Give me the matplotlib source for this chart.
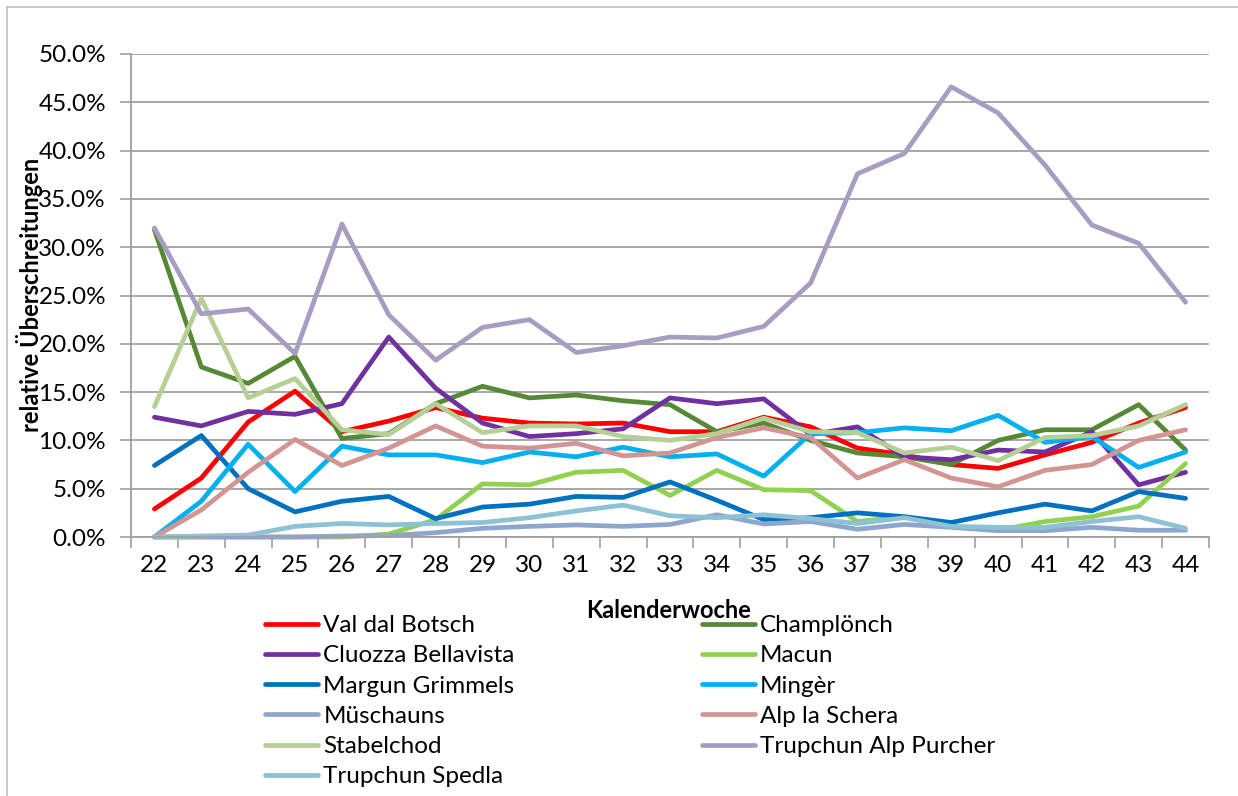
import matplotlib
matplotlib.use("Agg")
import matplotlib.pyplot as plt
from matplotlib.ticker import FuncFormatter, FixedLocator
from matplotlib.lines import Line2D

plt.rcParams['font.family'] = ['Lato', 'DejaVu Sans']

# Kalenderwochen
weeks = [str(w) for w in range(22, 45)]

# relative Überschreitungen in Prozent
val_dal_botsch = [2.9, 6.1, 11.9, 15.1, 10.9, 12.0, 13.4, 12.3, 11.8, 11.7, 11.8, 10.9,
                  10.9, 12.4, 11.4, 9.2, 8.5, 7.5, 7.1, 8.5, 9.8, 11.8, 13.4]
champloench = [31.8, 17.6, 15.9, 18.7, 10.2, 10.7, 13.8, 15.6, 14.4, 14.7, 14.1, 13.7,
               10.9, 11.8, 10.0, 8.7, 8.3, 7.5, 10.0, 11.1, 11.1, 13.7, 9.0]
cluozza = [12.4, 11.5, 13.0, 12.7, 13.8, 20.7, 15.4, 11.8, 10.4, 10.7, 11.2, 14.4,
           13.8, 14.3, 10.6, 11.4, 8.3, 8.0, 9.0, 8.8, 10.9, 5.4, 6.7]
macun = [0.0, 0.0, 0.0, 0.0, 0.0, 0.3, 1.8, 5.5, 5.4, 6.7, 6.9, 4.3,
         6.9, 4.9, 4.8, 1.6, 2.1, 1.1, 0.7, 1.6, 2.1, 3.2, 7.6]
margun = [7.4, 10.5, 5.0, 2.6, 3.7, 4.2, 1.9, 3.1, 3.4, 4.2, 4.1, 5.7,
          3.8, 1.8, 2.0, 2.5, 2.1, 1.5, 2.5, 3.4, 2.7, 4.7, 4.0]
minger = [0.0, 3.7, 9.6, 4.7, 9.4, 8.5, 8.5, 7.7, 8.8, 8.3, 9.3, 8.3,
          8.6, 6.3, 10.7, 10.8, 11.3, 11.0, 12.6, 9.8, 10.4, 7.2, 8.8]
mueschauns = [0.0, 0.0, 0.0, 0.0, 0.1, 0.15, 0.45, 0.9, 1.1, 1.25, 1.1, 1.3,
              2.3, 1.35, 1.6, 0.8, 1.3, 1.0, 0.65, 0.65, 1.0, 0.7, 0.7]
alp_la_schera = [0.0, 2.8, 6.7, 10.1, 7.4, 9.2, 11.5, 9.4, 9.2, 9.7, 8.4, 8.7,
                 10.3, 11.3, 10.3, 6.1, 8.0, 6.1, 5.2, 6.9, 7.5, 10.0, 11.1]
stabelchod = [13.5, 24.7, 14.4, 16.4, 11.1, 10.6, 13.8, 10.8, 11.5, 11.5, 10.4, 10.0,
              10.7, 12.3, 10.9, 10.8, 8.7, 9.3, 7.9, 10.3, 10.5, 11.5, 13.7]
alp_purcher = [32.0, 23.1, 23.6, 19.0, 32.4, 23.0, 18.3, 21.7, 22.5, 19.1, 19.8, 20.7,
               20.6, 21.8, 26.3, 37.6, 39.7, 46.6, 43.9, 38.5, 32.3, 30.4, 24.3]
spedla = [0.0, 0.1, 0.2, 1.1, 1.4, 1.25, 1.4, 1.5, 2.0, 2.7, 3.3, 2.2,
          2.0, 2.3, 1.9, 1.4, 2.0, 1.1, 1.0, 1.0, 1.6, 2.1, 0.9]

names = ['Val dal Botsch', 'Champlönch', 'Cluozza Bellavista', 'Macun',
         'Margun Grimmels', 'Mingèr', 'Müschauns', 'Alp la Schera',
         'Stabelchod', 'Trupchun Alp Purcher', 'Trupchun Spedla']
series = [val_dal_botsch, champloench, cluozza, macun, margun, minger,
          mueschauns, alp_la_schera, stabelchod, alp_purcher, spedla]
colors = ['#FF0000', '#558935', '#7030A0', '#92D050', '#0070C0', '#00B0F0',
          '#8EA6CE', '#D39494', '#B6CF96', '#A89CC2', '#8DC1D4']

fig = plt.figure(figsize=(12.38, 7.96), dpi=100)
ax = fig.add_axes([131 / 1238, 1 - 537 / 796, (1209 - 131) / 1238, (537 - 54) / 796])

x = list(range(len(weeks)))
lines = []
for name, vals, col in zip(names, series, colors):
    ln, = ax.plot(x, [v / 100 for v in vals], color=col, lw=3.4, label=name,
                  solid_joinstyle='round', solid_capstyle='round', clip_on=False)
    lines.append(ln)

ax.set_xlim(-0.5, len(weeks) - 0.5)
ax.set_ylim(0, 0.5)
ax.set_yticks([i * 0.05 for i in range(11)])
ax.yaxis.set_major_formatter(FuncFormatter(lambda v, p: f"{v * 100:.1f}%"))
ax.set_xticks(x)
ax.set_xticklabels(weeks)
ax.xaxis.set_minor_locator(FixedLocator([i - 0.5 for i in range(len(weeks) + 1)]))
ax.tick_params(axis='x', which='major', length=0, labelsize=17.5, pad=13)
ax.tick_params(axis='x', which='minor', length=8, color='#A0A0A0', width=1.2)
ax.tick_params(axis='y', length=8, color='#A0A0A0', width=1.2, labelsize=17.5, pad=10)

ax.grid(axis='y', color='#A0A0A0', lw=1.3)
ax.set_axisbelow(True)
for s in ['top', 'right']:
    ax.spines[s].set_visible(False)
for s in ['left', 'bottom']:
    ax.spines[s].set_color('#A0A0A0')
    ax.spines[s].set_linewidth(1.3)

fig.text(30 / 1238, 1 - 295 / 796, 'relative Überschreitungen', rotation=90,
         ha='center', va='center', fontsize=17, fontweight='bold')
fig.text(669 / 1238, 1 - 611 / 796, 'Kalenderwoche', ha='center', va='center',
         fontsize=17, fontweight='bold')

# legend reihenweise wie im Original
order = [0, 2, 4, 6, 8, 10, 1, 3, 5, 7, 9]
leg = fig.legend([lines[i] for i in order], [names[i] for i in order], ncol=2,
                 loc='upper left', bbox_to_anchor=(265 / 1238, 1 - 615 / 796),
                 frameon=False, fontsize=17.5, handlelength=2.2, handletextpad=0.2,
                 columnspacing=7.7, labelspacing=0.38, borderpad=0, borderaxespad=0)
for h in leg.legend_handles:
    h.set_solid_capstyle('round')

# Diagrammrahmen (links/oben)
fig.add_artist(Line2D([7 / 1238, 7 / 1238], [0, 1 - 7 / 796], color='#C0C0C0', lw=1.2))
fig.add_artist(Line2D([7 / 1238, 1], [1 - 7 / 796, 1 - 7 / 796], color='#C0C0C0', lw=1.2))

fig.savefig('out.png', dpi=100)
